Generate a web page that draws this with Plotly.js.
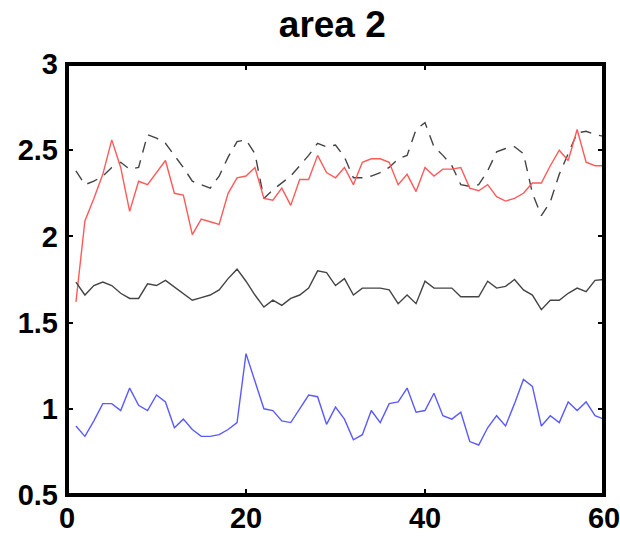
<!DOCTYPE html>
<html>
<head>
<meta charset="utf-8">
<script src="https://cdn.plot.ly/plotly-3.0.1.min.js"></script>
<style>html,body{margin:0;padding:0;background:#fff;}#chart{width:620px;height:538px;}</style>
</head>
<body>
<div id="chart"></div>
<script>
const xs = [1,2,3,4,5,6,7,8,9,10,11,12,13,14,15,16,17,18,19,20,21,22,23,24,25,26,27,28,29,30,31,32,33,34,35,36,37,38,39,40,41,42,43,44,45,46,47,48,49,50,51,52,53,54,55,56,57,58,59,60];

const redSeries = [1.62,2.09,2.22,2.36,2.56,2.40,2.145,2.32,2.30,2.37,2.44,2.25,2.24,2.01,2.10,2.085,2.07,2.25,2.34,2.35,
  2.40,2.22,2.21,2.28,2.18,2.33,2.33,2.47,2.37,2.34,2.40,2.30,2.43,2.45,2.45,2.43,2.30,2.36,2.26,2.40,
  2.35,2.39,2.39,2.40,2.28,2.265,2.30,2.23,2.205,2.22,2.25,2.31,2.31,2.41,2.50,2.44,2.62,2.43,2.41,2.41];

const dashedSeries = [2.38,2.30,2.32,2.35,2.40,2.43,2.39,2.40,2.59,2.57,2.54,2.47,2.40,2.32,2.30,2.28,2.35,2.46,2.55,2.56,
  2.48,2.22,2.27,2.31,2.35,2.41,2.47,2.54,2.52,2.53,2.46,2.34,2.34,2.35,2.37,2.40,2.45,2.47,2.62,2.66,
  2.52,2.47,2.41,2.30,2.29,2.30,2.38,2.49,2.51,2.52,2.48,2.25,2.12,2.20,2.36,2.48,2.60,2.61,2.59,2.58];

const blackSeries = [1.735,1.66,1.715,1.735,1.715,1.67,1.64,1.64,1.725,1.715,1.745,1.705,1.67,1.63,1.645,1.66,1.69,1.755,1.81,1.74,
  1.66,1.59,1.63,1.60,1.64,1.66,1.70,1.80,1.79,1.715,1.755,1.66,1.70,1.70,1.70,1.69,1.61,1.66,1.61,1.74,
  1.70,1.70,1.70,1.65,1.65,1.65,1.74,1.70,1.71,1.75,1.69,1.66,1.575,1.63,1.63,1.67,1.70,1.68,1.745,1.75];

const blueSeries = [0.90,0.84,0.93,1.03,1.03,0.99,1.12,1.02,0.99,1.08,1.04,0.89,0.94,0.88,0.84,0.84,0.85,0.88,0.92,1.32,
  1.16,1.00,0.99,0.93,0.92,1.00,1.08,1.07,0.91,1.01,0.94,0.82,0.85,0.99,0.92,1.03,1.04,1.12,0.98,0.99,
  1.09,0.96,0.94,0.98,0.81,0.79,0.89,0.96,0.90,1.03,1.17,1.13,0.90,0.96,0.92,1.04,0.99,1.04,0.96,0.94];

const xTicks = [0,20,40,60];
const yTicks = [0.5,1,1.5,2,2.5,3];
const yTickLabels = ['0.5','1','1.5','2','2.5','3'];

const traces = [
  {x: xs, y: dashedSeries, mode: 'lines', line: {color: '#444444', width: 1.4, dash: '11px,8px'}},
  {x: xs, y: redSeries, mode: 'lines', line: {color: '#ff5a5a', width: 1.4}},
  {x: xs, y: blackSeries, mode: 'lines', line: {color: '#444444', width: 1.4}},
  {x: xs, y: blueSeries, mode: 'lines', line: {color: '#5a5aff', width: 1.4}}
];

const tickFont = {family: 'Liberation Sans, Arial, sans-serif', size: 29, color: '#000', weight: 'bold'};

const layout = {
  width: 620, height: 538,
  margin: {l: 67, r: 16, t: 64, b: 43, pad: 0},
  paper_bgcolor: '#fff', plot_bgcolor: '#fff',
  showlegend: false,
  title: {text: 'area 2', xref: 'container', x: 0.536, xanchor: 'center', y: 0.955, yanchor: 'middle',
          font: {family: 'Liberation Sans, Arial, sans-serif', size: 37, color: '#000', weight: 'bold'}},
  xaxis: {range: [0, 60], tickvals: xTicks, ticktext: xTicks.map(String), showgrid: false, zeroline: false,
          showline: false, mirror: 'ticks', ticklabeloverflow: 'allow',
          ticks: 'inside', ticklen: 6, tickwidth: 2, tickcolor: '#000', tickfont: tickFont, ticklabelstandoff: 3},
  yaxis: {range: [0.5, 3], tickvals: yTicks, ticktext: yTickLabels, showgrid: false, zeroline: false,
          showline: false, mirror: 'ticks', ticklabeloverflow: 'allow',
          ticks: 'inside', ticklen: 6, tickwidth: 2, tickcolor: '#000', tickfont: tickFont, ticklabelstandoff: 8},
  shapes: [{type: 'rect', xref: 'paper', yref: 'paper', x0: 0, x1: 1, y0: 0, y1: 1,
            line: {color: '#000', width: 4}, fillcolor: 'rgba(0,0,0,0)', layer: 'above'}]
};

Plotly.newPlot('chart', traces, layout, {staticPlot: true, displayModeBar: false});
</script>
</body>
</html>
